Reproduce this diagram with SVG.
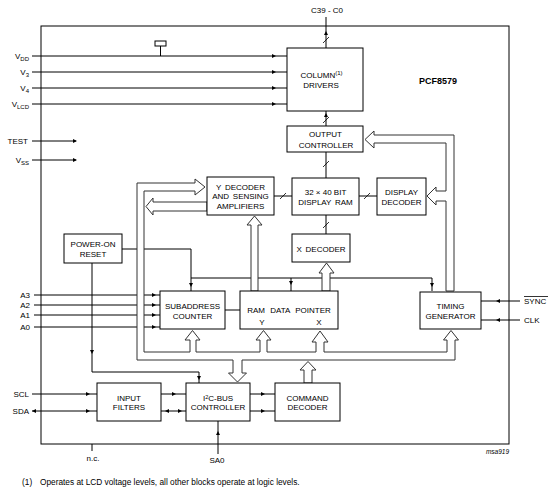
<svg xmlns="http://www.w3.org/2000/svg" xmlns:xlink="http://www.w3.org/1999/xlink" width="553" height="495" viewBox="0 0 553 495">
<style>
text{font-family:"Liberation Sans",Arial,sans-serif;font-size:8px;fill:#000}
.c{text-anchor:middle}
.w{word-spacing:1.5px}
.e{text-anchor:end}
.box{fill:#fff;stroke:#000;stroke-width:1}
.ln{fill:none;stroke:#000;stroke-width:1}
.pipe{fill:#fff;stroke:#333;stroke-width:1}
.sl{stroke:#000;stroke-width:0.8}
</style>
<defs>
<path id="ah" d="M0,0 L-4,-2 L-4,2 Z" fill="#000"/>
</defs>
<rect width="553" height="495" fill="#fff"/>
<!-- outer chip boundary -->
<rect id="chip" x="41" y="26" width="468" height="418" class="ln"/>
<text x="419" y="84" style="font-weight:bold;font-size:9px">PCF8579</text>

<g id="connectors">
<!-- supply lines -->
<path class="ln" d="M32,56H287M32,72H287M32,88H287M32,104H287"/>
<rect x="155" y="41" width="11" height="5" class="ln"/>
<path class="ln" d="M160.5,46V56"/>
<path class="ln" d="M32,141H76M32,160H76"/>
<!-- C39-C0 and internal data paths -->
<path class="ln" d="M326,17V48M326,111V126M326,152V178M326,215V234M274,196H292M359,196H377"/>
<path class="sl" d="M323,43L329,37M323,123L329,117M323,167L329,161M323,228L329,222M280,199L286,193M364,199L370,193"/>
<!-- A lines -->
<path class="ln" d="M34,295H160M34,305H160M34,315H160M34,327H160"/>
<!-- power-on reset -->
<path class="ln" d="M122,249H191V291M191,278H432V291M291,278V291"/>
<path class="ln" d="M92,263V372H199V383"/>
<!-- subaddress - RAM data pointer -->
<path class="ln" d="M225,310H240"/>
<!-- SYNC / CLK -->
<path class="ln" d="M481,301H520M481,320H520"/>
<!-- SCL / SDA -->
<path class="ln" d="M32,394H97M32,411H97M161,394H186M161,411H186M250,394H275M250,411H275"/>
<path class="ln" d="M218,421V454M92,444V451"/>
<!-- hollow buses -->
<path class="pipe" d="M454,291V135H374V131L365,139.5L374,148V143H446V191H436V187L427,196L436,205V201H446V291Z"/>
<path class="pipe" d="M195,183H137V360H233V373H228.5L237.5,382L246.5,373H242V360H455V340H458.5L451,330.5L443.5,340H447V352H324V342H328L320,331L312,342H316V352H267V340H271L263.5,330.5L256,340H260V352H196V340H200L192.5,330.5L185,340H190V352H144V191H195V195L205,187L195,179Z"/>
<path class="pipe" d="M207,202H153V198L146,206.5L153,215V211H207Z"/>
<path class="pipe" d="M251,291V225H247L254.5,216L262,225H258V291Z"/>
<path class="pipe" d="M322,291V273H319L326.5,263L334,273H330V291Z"/>
<path class="pipe" d="M304,383V370H300L308,361.5L316,370H312V383Z"/>
<!-- arrowheads -->
<use xlink:href="#ah" transform="translate(276,56)"/>
<use xlink:href="#ah" transform="translate(276,72)"/>
<use xlink:href="#ah" transform="translate(276,88)"/>
<use xlink:href="#ah" transform="translate(276,104)"/>
<use xlink:href="#ah" transform="translate(77,141)"/>
<use xlink:href="#ah" transform="translate(77,160)"/>
<use xlink:href="#ah" transform="translate(156,295)"/>
<use xlink:href="#ah" transform="translate(156,305)"/>
<use xlink:href="#ah" transform="translate(156,315)"/>
<use xlink:href="#ah" transform="translate(156,327)"/>
<use xlink:href="#ah" transform="translate(90,394)"/>
<use xlink:href="#ah" transform="translate(90,411)"/>
<use xlink:href="#ah" transform="translate(176,394)"/>
<use xlink:href="#ah" transform="translate(182,411)"/>
<use xlink:href="#ah" transform="translate(265,394)"/>
<use xlink:href="#ah" transform="translate(265,411)"/>
<use xlink:href="#ah" transform="translate(32,411) rotate(180)"/>
<use xlink:href="#ah" transform="translate(165,411) rotate(180)"/>
<use xlink:href="#ah" transform="translate(496,301) rotate(180)"/>
<use xlink:href="#ah" transform="translate(496,320) rotate(180)"/>
<use xlink:href="#ah" transform="translate(326,31) rotate(-90)"/>
<use xlink:href="#ah" transform="translate(326,113) rotate(-90)"/>
<use xlink:href="#ah" transform="translate(218,431) rotate(-90)"/>
<use xlink:href="#ah" transform="translate(191,287) rotate(90)"/>
<use xlink:href="#ah" transform="translate(291,285) rotate(90)"/>
<use xlink:href="#ah" transform="translate(432,287) rotate(90)"/>
<use xlink:href="#ah" transform="translate(92,354) rotate(90)"/>
<use xlink:href="#ah" transform="translate(199,380) rotate(90)"/>
</g>

<!-- pin labels -->
<g id="pins">
<text x="29" y="59" class="e">V<tspan font-size="6" dy="1.5">DD</tspan></text>
<text x="29" y="75" class="e">V<tspan font-size="6" dy="1.5">3</tspan></text>
<text x="29" y="91" class="e">V<tspan font-size="6" dy="1.5">4</tspan></text>
<text x="29" y="107" class="e">V<tspan font-size="6" dy="1.5">LCD</tspan></text>
<text x="28" y="144" class="e">TEST</text>
<text x="29" y="163" class="e">V<tspan font-size="6" dy="1.5">SS</tspan></text>
<text x="30" y="298" class="e">A3</text>
<text x="30" y="308" class="e">A2</text>
<text x="30" y="318" class="e">A1</text>
<text x="30" y="330" class="e">A0</text>
<text x="29" y="397" class="e">SCL</text>
<text x="29" y="414" class="e">SDA</text>
<text x="93" y="461" class="c">n.c.</text>
<text x="217" y="463" class="c">SA0</text>
<text x="327" y="13" class="c">C39 - C0</text>
<text x="524" y="304">SYNC</text>
<path class="sl" d="M524,296.5H548"/>
<text x="524" y="323">CLK</text>
<text x="509" y="454" class="e" style="font-style:italic;font-size:6.5px">msa919</text>
</g>

<g id="column-drivers">
<rect x="287" y="48" width="76" height="63" class="box"/>
<text x="321.5" y="78" class="c">COLUMN<tspan font-size="6" dy="-3">(1)</tspan></text>
<text x="321" y="88" class="c">DRIVERS</text>
</g>
<g id="output-controller">
<rect x="287" y="126" width="76" height="26" class="box"/>
<text x="325.5" y="137" class="c">OUTPUT</text>
<text x="326" y="148" class="c">CONTROLLER</text>
</g>
<g id="y-decoder">
<rect x="207" y="177" width="67" height="38" class="box"/>
<text x="240.5" y="189.5" class="c w">Y DECODER</text>
<text x="240.5" y="199" class="c w">AND SENSING</text>
<text x="240.5" y="209" class="c">AMPLIFIERS</text>
</g>
<g id="display-ram">
<rect x="292" y="178" width="67" height="37" class="box"/>
<text x="325.5" y="195" class="c">32 × 40 BIT</text>
<text x="325.5" y="205" class="c w">DISPLAY RAM</text>
</g>
<g id="display-decoder">
<rect x="377" y="178" width="49" height="37" class="box"/>
<text x="401.5" y="195" class="c">DISPLAY</text>
<text x="401.5" y="205" class="c">DECODER</text>
</g>
<g id="x-decoder">
<rect x="292" y="234" width="58" height="28" class="box"/>
<text x="321" y="252" class="c w">X DECODER</text>
</g>
<g id="power-on-reset">
<rect x="64" y="234" width="58" height="29" class="box"/>
<text x="93" y="247" class="c">POWER-ON</text>
<text x="93" y="257" class="c">RESET</text>
</g>
<g id="subaddress-counter">
<rect x="160" y="291" width="65" height="38" class="box"/>
<text x="192.5" y="309" class="c">SUBADDRESS</text>
<text x="192.5" y="319" class="c">COUNTER</text>
</g>
<g id="ram-data-pointer">
<rect x="240" y="291" width="98" height="38" class="box"/>
<text x="289" y="313" class="c" style="word-spacing:3px">RAM DATA POINTER</text>
<text x="262" y="325" class="c">Y</text>
<text x="319" y="325" class="c">X</text>
</g>
<g id="timing-generator">
<rect x="420" y="292" width="61" height="37" class="box"/>
<text x="450.5" y="309" class="c">TIMING</text>
<text x="450.5" y="319" class="c">GENERATOR</text>
</g>
<g id="input-filters">
<rect x="97" y="383" width="64" height="38" class="box"/>
<text x="129" y="401" class="c">INPUT</text>
<text x="129" y="410" class="c">FILTERS</text>
</g>
<g id="i2c-controller">
<rect x="186" y="383" width="64" height="38" class="box"/>
<text x="218" y="401" class="c">I<tspan font-size="5.5" dy="-2.5">2</tspan><tspan dy="2.5">C-BUS</tspan></text>
<text x="218" y="410" class="c">CONTROLLER</text>
</g>
<g id="command-decoder">
<rect x="275" y="383" width="65" height="38" class="box"/>
<text x="307.5" y="401" class="c">COMMAND</text>
<text x="307.5" y="410" class="c">DECODER</text>
</g>
<text x="22" y="485" style="font-size:8.3px">(1)</text>
<text x="40" y="485" style="font-size:8.3px">Operates at LCD voltage levels, all other blocks operate at logic levels.</text>
</svg>
